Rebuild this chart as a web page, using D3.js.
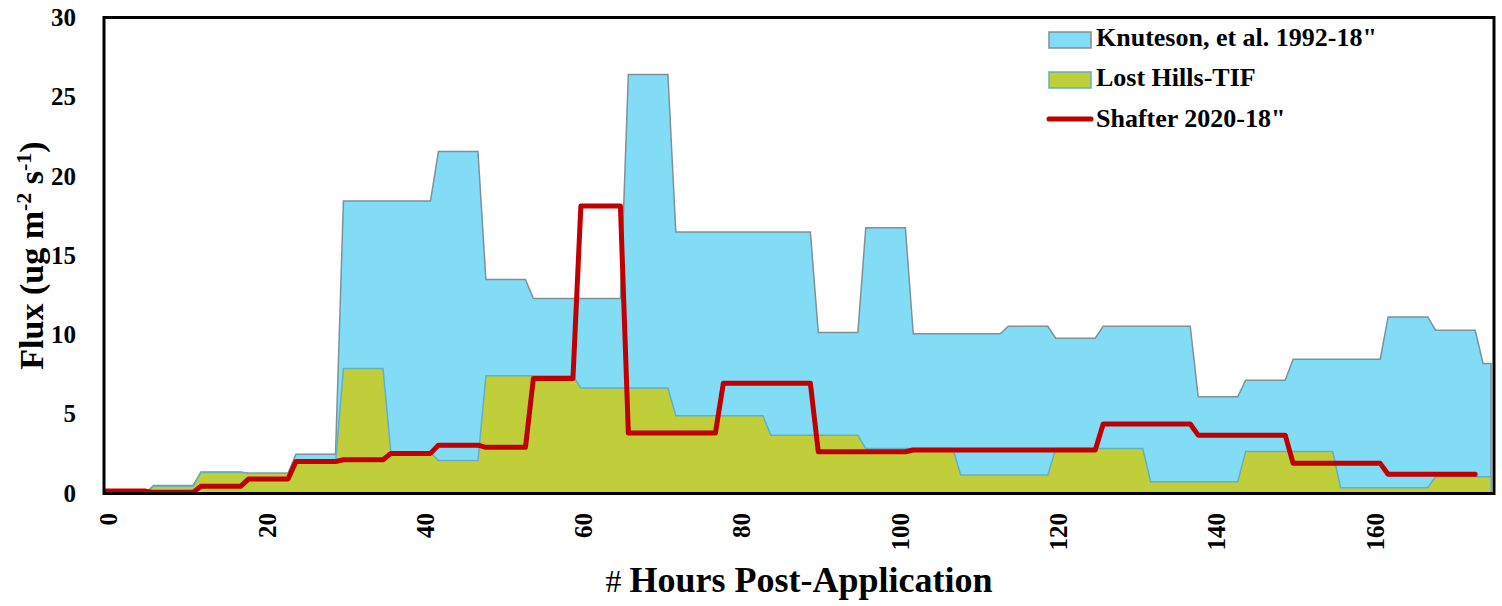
<!DOCTYPE html>
<html>
<head>
<meta charset="utf-8">
<script src="https://cdn.jsdelivr.net/npm/d3@7"></script>
<style>
  body { margin: 0; background: #fff; }
  svg text { font-family: "Liberation Serif", "Times New Roman", serif; font-weight: bold; fill: #000; }
</style>
</head>
<body>
<svg id="chart" width="1502" height="606"></svg>
<script>
// each reading holds for a 6-hour sampling block starting at these hours
const blockStart = [0, 6, 12, 18, 24, 30, 36, 42, 48, 54, 60, 66, 72, 78, 84, 90, 96, 102, 108, 114, 120, 126, 132, 138, 144, 150, 156, 162, 168, 174];
const knuteson  = [0, 0.47, 1.32, 1.25, 2.44, 18.42, 18.42, 21.55, 13.47, 12.27, 12.27, 26.4, 16.47, 16.47, 16.47, 10.13, 16.74, 10.04, 10.04, 10.52, 9.77, 10.52, 10.52, 6.07, 7.12, 8.44, 8.44, 11.11, 10.27, 8.17];
const lostHills = [0, 0.42, 1.3, 1.24, 1.87, 7.85, 2.55, 2.05, 7.4, 7.4, 6.62, 6.62, 4.88, 4.88, 3.65, 3.65, 2.81, 2.81, 1.13, 1.13, 2.81, 2.8, 0.71, 0.71, 2.62, 2.62, 0.33, 0.33, 1.03, 1.03];
const shafter   = [0.12, 0.04, 0.42, 0.88, 1.98, 2.1, 2.5, 3.02, 2.88, 7.22, 18.1, 3.78, 3.78, 6.92, 6.92, 2.6, 2.6, 2.71, 2.71, 2.71, 2.71, 4.35, 4.35, 3.65, 3.65, 1.87, 1.87, 1.18, 1.18, null];
const lastHour = 175;
const xTicks = [0, 20, 40, 60, 80, 100, 120, 140, 160];
const yTicks = [0, 5, 10, 15, 20, 25, 30];
const seriesNames = ['Knuteson, et al. 1992-18"', 'Lost Hills-TIF', 'Shafter 2020-18"'];

// hourly table built from the block readings
let rows = [];
blockStart.forEach(function(s, i) {
  for (let h = s; h < s + 6 && h <= lastHour; h++) {
    rows.push({hour: h, k: knuteson[i], l: lostHills[i], s: shafter[i]});
  }
});

let svg = d3.select("#chart");
let plotLeft = 104, plotRight = 1494, plotTop = 17.5, plotBottom = 493.5;

let x = d3.scaleLinear().domain([0, lastHour]).range([106, 1491]);
let y = d3.scaleLinear().domain([0, 30]).range([493, 17.5]);

let areaK = d3.area().x(function(d) { return x(d.hour); }).y0(y(0)).y1(function(d) { return y(d.k); });
let areaL = d3.area().x(function(d) { return x(d.hour); }).y0(y(0)).y1(function(d) { return y(d.l); });
let lineS = d3.line()
  .defined(function(d) { return d.s != null; })
  .x(function(d) { return x(d.hour); })
  .y(function(d) { return y(d.s); });

svg.append("path")
  .datum(rows)
  .attr("d", areaK)
  .attr("fill", "#83dcf6")
  .attr("stroke", "#7d9199")
  .attr("stroke-width", 1.5);

svg.append("path")
  .datum(rows)
  .attr("d", areaL)
  .attr("fill", "#c0ce3a")
  .attr("stroke", "#62afc6")
  .attr("stroke-width", 1.5);

svg.append("path")
  .datum(rows)
  .attr("d", lineS)
  .attr("fill", "none")
  .attr("stroke", "#c00000")
  .attr("stroke-width", 5)
  .attr("stroke-linejoin", "round")
  .attr("stroke-linecap", "round");

// plot frame
svg.append("rect")
  .attr("x", plotLeft)
  .attr("y", plotTop)
  .attr("width", plotRight - plotLeft)
  .attr("height", plotBottom - plotTop)
  .attr("fill", "none")
  .attr("stroke", "#000")
  .attr("stroke-width", 3);

let yAxis = svg.append("g")
  .attr("transform", "translate(" + plotLeft + ",0)")
  .call(d3.axisLeft(y).tickValues(yTicks).tickSize(0).tickPadding(28));
yAxis.select(".domain").remove();
yAxis.selectAll("text")
  .style("font-size", "25px")
  .style("font-family", "Liberation Serif")
  .style("font-weight", "bold");

let xAxis = svg.append("g")
  .attr("transform", "translate(0," + y(0) + ")")
  .call(d3.axisBottom(x).tickValues(xTicks).tickSize(0));
xAxis.select(".domain").remove();
xAxis.selectAll("text")
  .attr("transform", "rotate(-90)")
  .attr("x", -20)
  .attr("y", 2)
  .attr("dy", "0.35em")
  .attr("text-anchor", "end")
  .style("font-size", "25px")
  .style("font-family", "Liberation Serif")
  .style("font-weight", "bold");

// axis titles
let xTitle = svg.append("text")
  .attr("x", (plotLeft + plotRight) / 2)
  .attr("y", 592)
  .attr("text-anchor", "middle")
  .style("font-size", "36px");
xTitle.append("tspan").style("font-weight", "normal").style("font-size", "32px").text("# ");
xTitle.append("tspan").text("Hours Post-Application");

let yTitle = svg.append("text")
  .attr("transform", "translate(43," + (plotTop + plotBottom) / 2 + ") rotate(-90)")
  .attr("text-anchor", "middle")
  .style("font-size", "34px");
yTitle.append("tspan").text("Flux (ug m");
yTitle.append("tspan").attr("dy", -12).style("font-size", "22px").text("-2");
yTitle.append("tspan").attr("dy", 12).text(" s");
yTitle.append("tspan").attr("dy", -12).style("font-size", "22px").text("-1");
yTitle.append("tspan").attr("dy", 12).text(")");

// legend
let legend = svg.append("g").attr("transform", "translate(1049,0)");
legend.append("rect").attr("x", 0).attr("y", 32).attr("width", 42).attr("height", 16)
  .attr("fill", "#83dcf6").attr("stroke", "#7d9199").attr("stroke-width", 1.5);
legend.append("rect").attr("x", 0).attr("y", 72).attr("width", 42).attr("height", 16)
  .attr("fill", "#c0ce3a").attr("stroke", "#62afc6").attr("stroke-width", 1.5);
legend.append("line").attr("x1", 0).attr("x2", 42).attr("y1", 119).attr("y2", 119)
  .attr("stroke", "#c00000").attr("stroke-width", 5).attr("stroke-linecap", "round");
[46, 86, 127].forEach(function(by, i) {
  legend.append("text")
    .attr("x", 47)
    .attr("y", by)
    .style("font-size", "26px")
    .text(seriesNames[i]);
});
</script>
</body>
</html>
